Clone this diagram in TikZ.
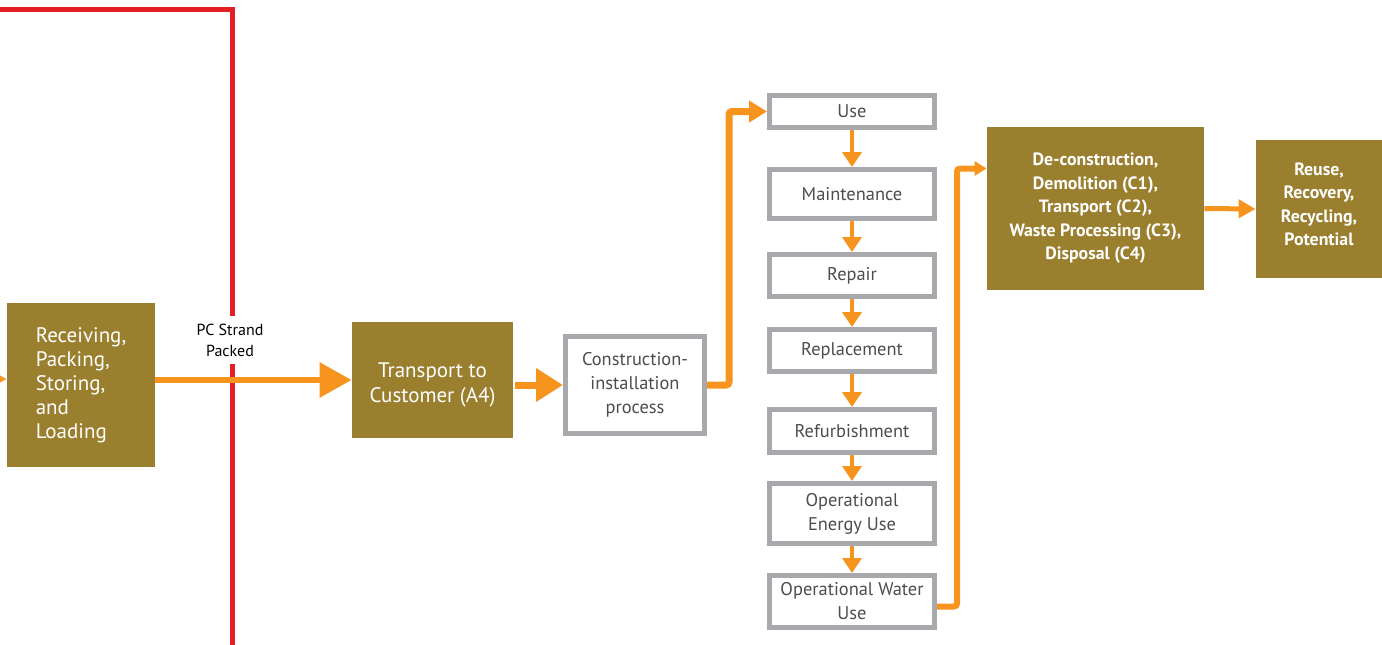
\documentclass[tikz,border=0pt]{standalone}
\usepackage{fontspec}
\setmainfont{PT Sans}
\usetikzlibrary{arrows.meta,positioning}
\definecolor{boxolive}{HTML}{9A7F2F}
\definecolor{flowor}{HTML}{F7941D}
\definecolor{boxgray}{HTML}{A7A9AC}
\definecolor{textgray}{HTML}{4D4D4F}
\definecolor{edgered}{HTML}{E31E24}
\tikzset{
  stagebox/.style={fill=boxolive, text=white, inner sep=0pt, align=center},
  usebox/.style={draw=boxgray, line width=2.5pt, fill=white, text=textgray,
    font=\fontsize{9.2}{12}\selectfont, minimum width=82.5pt, inner sep=0pt, align=center},
  bigflow/.style={draw=flowor, line width=3pt, -{Triangle[length=16pt,width=17pt]}},
  shortflow/.style={draw=flowor, line width=3.5pt, -{Triangle[length=13.5pt,width=16pt]}},
  link/.style={draw=flowor, line width=3.5pt, rounded corners=1.5pt, -{Triangle[length=9pt,width=10.5pt]}},
  sidelink/.style={draw=flowor, line width=3pt, rounded corners=1.5pt, -{Triangle[length=6pt,width=7pt]}},
  downflow/.style={draw=flowor, line width=2pt, -{Triangle[length=7.5pt,width=9.5pt]}},
  endflow/.style={draw=flowor, line width=2.5pt, -{Triangle[length=8.5pt,width=9pt]}},
}
\begin{document}
\begin{tikzpicture}[x=0.5pt,y=-0.5pt]
    \useasboundingbox (0,0) rectangle (1382,644);
    \clip (0,0) rectangle (1382,644);
    % system boundary
    \draw[edgered, line width=2.25pt] (-10,9.5) -- (232.5,9.5) -- (232.5,660);
    % olive stages
    \node[stagebox, minimum width=74pt, minimum height=82pt,
      font=\fontsize{10.5}{12}\selectfont, align=left] (recv) at (81,385)
      {Receiving,\\Packing,\\Storing,\\and\\Loading};
    \node[stagebox, minimum width=80.5pt, minimum height=58pt, text height=25pt,
      font=\fontsize{10.5}{12.5}\selectfont] (trans) at (432.5,380)
      {Transport to\\Customer (A4)};
    \node[stagebox, minimum width=108.5pt, minimum height=81.5pt,
      font=\bfseries\fontsize{8.9}{11.75}\selectfont] (decon) at (1095.5,208.5)
      {De-construction,\\Demolition (C1),\\Transport (C2),\\Waste Processing (C3),\\Disposal (C4)};
    \node[stagebox, minimum width=63pt, minimum height=69pt, text depth=5pt,
      font=\bfseries\fontsize{8.9}{11.75}\selectfont] (reuse) at (1319,209)
      {Reuse,\\Recovery,\\Recycling,\\Potential};
    % grey stages
    \node[usebox, minimum width=69.5pt, minimum height=48.5pt] (constr) at (635,385)
      {Construction-\\installation\\process};
    \node[usebox, minimum height=16pt] (use) at (852,111.5) {Use};
    \node[usebox, minimum height=24.5pt] (maint) at (852,194) {Maintenance};
    \node[usebox, minimum height=21pt] (repair) at (852,275.5) {Repair};
    \node[usebox, minimum height=21pt] (repl) at (852,350.5) {Replacement};
    \node[usebox, minimum height=21.5pt] (refurb) at (852,431) {Refurbishment};
    \node[usebox, minimum height=30pt] (energy) at (852,513.5) {Operational\\Energy Use};
    \node[usebox, minimum height=26pt] (water) at (852,601.5) {Operational Water\\Use};
    % label on the boundary
    \node[fill=white, inner xsep=2pt, inner ysep=4pt, align=center,
      font=\fontsize{8}{10.5}\selectfont] (pclabel) at (230,340) {PC Strand\\Packed};
    % flows
    \coordinate (inflow) at (-30,379);
    \draw[bigflow] (inflow) -- (recv.west |- inflow);
    \draw[bigflow] (recv.east |- trans.west) -- (trans.west);
    \draw[shortflow] ([xshift=1pt]trans.east |- constr.west) -- (constr.west);
    \draw[link] (constr.east) -- ++(22,0) |- (use.west);
    \foreach \a/\b in {use/maint, maint/repair, repair/repl, repl/refurb, refurb/energy, energy/water}
        \draw[downflow] (\a.south) -- (\b.north);
    \draw[sidelink] ([yshift=-2.5pt]water.east) -- ++(20,0) |- ([yshift=20pt]decon.west);
    \draw[endflow] (decon.east) -- (reuse.west);
\end{tikzpicture}
\end{document}
